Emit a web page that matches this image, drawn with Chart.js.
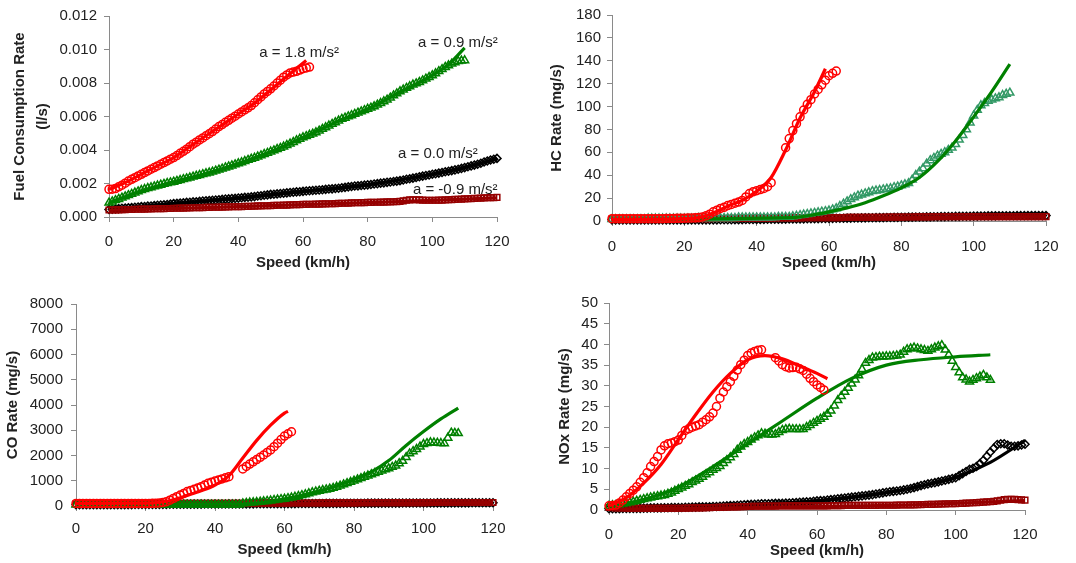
<!DOCTYPE html>
<html>
<head>
<meta charset="utf-8">
<script src="https://cdn.jsdelivr.net/npm/chart.js@4/dist/chart.umd.min.js"></script>
<style>
html,body{margin:0;padding:0;background:#fff;width:1076px;height:563px;overflow:hidden}
canvas{position:absolute}
</style>
</head>
<body>
<canvas id="fuel" width="540" height="280" style="left:0;top:0"></canvas>
<canvas id="hc" width="536" height="280" style="left:540px;top:0"></canvas>
<canvas id="co" width="540" height="283" style="left:0;top:280px"></canvas>
<canvas id="nox" width="536" height="283" style="left:540px;top:280px"></canvas>
<script>
/* emisiones vs velocidad, 4 aceleraciones: puntos = medido, linea = modelo */
const SPD_62  = [0,1,2,3,4,5,6,7,8,9,10,11,12,13,14,15,16,17,18,19,20,21,22,23,24,25,26,27,28,29,
  30,31,32,33,34,35,36,37,38,39,40,41,42,43,44,45,46,47,48,49,50,51,52,53,54,55,56,57,58,59,60,61,62];
const SPD_110 = [0,1,2,3,4,5,6,7,8,9,10,11,12,13,14,15,16,17,18,19,20,21,22,23,24,25,26,27,28,29,
  30,31,32,33,34,35,36,37,38,39,40,41,42,43,44,45,46,47,48,49,50,51,52,53,54,55,56,57,58,59,
  60,61,62,63,64,65,66,67,68,69,70,71,72,73,74,75,76,77,78,79,80,81,82,83,84,85,86,87,88,89,
  90,91,92,93,94,95,96,97,98,99,100,101,102,103,104,105,106,107,108,109,110];
const SPD_120 = [0,1,2,3,4,5,6,7,8,9,10,11,12,13,14,15,16,17,18,19,20,21,22,23,24,25,26,27,28,29,
  30,31,32,33,34,35,36,37,38,39,40,41,42,43,44,45,46,47,48,49,50,51,52,53,54,55,56,57,58,59,
  60,61,62,63,64,65,66,67,68,69,70,71,72,73,74,75,76,77,78,79,80,81,82,83,84,85,86,87,88,89,
  90,91,92,93,94,95,96,97,98,99,100,101,102,103,104,105,106,107,108,109,110,111,112,113,114,115,116,117,118,119,120];

const X_TICKS    = ['0','20','40','60','80','100','120'];
const FUEL_TICKS = ['0.000','0.002','0.004','0.006','0.008','0.010','0.012'];
const HC_TICKS   = ['0','20','40','60','80','100','120','140','160','180'];
const CO_TICKS   = ['0','1000','2000','3000','4000','5000','6000','7000','8000'];
const NOX_TICKS  = ['0','5','10','15','20','25','30','35','40','45','50'];

/* fuel (l/s) */
const FUEL_RED = [0.00165,0.00166,0.00170,0.00180,0.00190,0.00202,0.00215,0.00225,0.00235,0.00245,
  0.00255,0.00265,0.00275,0.00285,0.00295,0.00305,0.00315,0.00325,0.00335,0.00345,
  0.00355,0.00367,0.00380,0.00392,0.00405,0.00420,0.00435,0.00447,0.00460,0.00472,
  0.00485,0.00497,0.00510,0.00525,0.00540,0.00552,0.00565,0.00577,0.00590,0.00602,
  0.00615,0.00627,0.00640,0.00652,0.00665,0.00682,0.00700,0.00717,0.00735,0.00750,
  0.00765,0.00782,0.00800,0.00817,0.00835,0.00848,0.00860,0.00865,0.00870,0.00877,
  0.00885,0.00890,0.00895];
const FUEL_RED_FX = [0,5,10,15,20,25,30,35,40,45,50,55,61];
const FUEL_RED_FIT = [0.00165,0.00205,0.00255,0.00305,0.00355,0.00420,0.00485,0.00550,0.00615,0.00680,0.00760,0.00840,0.00935];
const FUEL_GRN = [0.00085,0.00092,0.00100,0.00107,0.00115,0.00122,0.00130,0.00137,0.00145,0.00152,
  0.00160,0.00166,0.00172,0.00177,0.00182,0.00187,0.00192,0.00197,0.00202,0.00206,
  0.00210,0.00215,0.00220,0.00225,0.00230,0.00235,0.00240,0.00245,0.00250,0.00255,
  0.00260,0.00265,0.00270,0.00276,0.00282,0.00288,0.00295,0.00301,0.00307,0.00313,
  0.00320,0.00326,0.00333,0.00340,0.00347,0.00353,0.00360,0.00367,0.00375,0.00382,
  0.00390,0.00397,0.00405,0.00412,0.00420,0.00429,0.00438,0.00447,0.00457,0.00466,
  0.00475,0.00482,0.00490,0.00497,0.00505,0.00515,0.00525,0.00535,0.00545,0.00555,
  0.00565,0.00575,0.00585,0.00592,0.00600,0.00607,0.00615,0.00622,0.00630,0.00637,
  0.00645,0.00652,0.00660,0.00670,0.00680,0.00690,0.00700,0.00712,0.00725,0.00737,
  0.00750,0.00760,0.00770,0.00780,0.00790,0.00797,0.00805,0.00815,0.00825,0.00835,
  0.00845,0.00857,0.00870,0.00882,0.00895,0.00905,0.00915,0.00922,0.00930,0.00933,0.00935];
const FUEL_GRN_FX = [0,10,20,30,40,50,60,70,80,90,100,105,110];
const FUEL_GRN_FIT = [0.00085,0.00155,0.00210,0.00260,0.00320,0.00390,0.00475,0.00565,0.00645,0.00745,0.00845,0.00910,0.01010];
const FUEL_BLK = [0.00045,0.00046,0.00048,0.00050,0.00052,0.00053,0.00055,0.00056,0.00058,0.00060,
  0.00062,0.00063,0.00065,0.00066,0.00068,0.00070,0.00072,0.00073,0.00075,0.00077,
  0.00080,0.00081,0.00083,0.00085,0.00087,0.00088,0.00090,0.00091,0.00093,0.00095,
  0.00097,0.00098,0.00100,0.00101,0.00103,0.00105,0.00107,0.00108,0.00110,0.00111,
  0.00113,0.00115,0.00117,0.00118,0.00120,0.00122,0.00125,0.00127,0.00130,0.00132,
  0.00135,0.00136,0.00138,0.00140,0.00142,0.00144,0.00146,0.00148,0.00150,0.00151,
  0.00153,0.00155,0.00157,0.00158,0.00160,0.00161,0.00163,0.00165,0.00167,0.00168,
  0.00170,0.00172,0.00175,0.00177,0.00180,0.00182,0.00185,0.00186,0.00188,0.00190,
  0.00192,0.00194,0.00197,0.00199,0.00202,0.00204,0.00207,0.00209,0.00212,0.00214,
  0.00217,0.00221,0.00225,0.00228,0.00232,0.00236,0.00240,0.00244,0.00248,0.00251,
  0.00255,0.00258,0.00262,0.00266,0.00270,0.00273,0.00277,0.00281,0.00285,0.00290,
  0.00295,0.00300,0.00305,0.00310,0.00315,0.00321,0.00328,0.00334,0.00340,0.00345,0.00350];
const FUEL_BLK_FX = [0,20,40,60,80,100,110,120];
const FUEL_BLK_FIT = [0.00045,0.00080,0.00113,0.00153,0.00192,0.00255,0.00295,0.00350];
const FUEL_DRD = [0.00042,0.00042,0.00043,0.00043,0.00044,0.00044,0.00045,0.00045,0.00046,0.00046,
  0.00047,0.00047,0.00048,0.00048,0.00049,0.00049,0.00050,0.00050,0.00051,0.00051,
  0.00052,0.00052,0.00053,0.00053,0.00054,0.00054,0.00055,0.00055,0.00056,0.00056,
  0.00057,0.00057,0.00058,0.00058,0.00059,0.00059,0.00060,0.00060,0.00061,0.00061,
  0.00062,0.00062,0.00063,0.00063,0.00064,0.00065,0.00066,0.00066,0.00067,0.00067,
  0.00068,0.00069,0.00070,0.00070,0.00071,0.00071,0.00072,0.00073,0.00074,0.00074,
  0.00075,0.00075,0.00076,0.00076,0.00077,0.00077,0.00078,0.00078,0.00079,0.00079,
  0.00080,0.00081,0.00082,0.00082,0.00083,0.00084,0.00085,0.00085,0.00086,0.00086,
  0.00087,0.00087,0.00088,0.00088,0.00089,0.00089,0.00090,0.00090,0.00091,0.00092,
  0.00093,0.00096,0.00100,0.00102,0.00103,0.00103,0.00102,0.00101,0.00100,0.00100,
  0.00100,0.00100,0.00101,0.00101,0.00102,0.00103,0.00104,0.00105,0.00106,0.00107,
  0.00108,0.00109,0.00110,0.00111,0.00112,0.00113,0.00114,0.00115,0.00116,0.00116,0.00117];
const FUEL_DRD_FX = [0,30,60,90,120];
const FUEL_DRD_FIT = [0.00040,0.00056,0.00074,0.00092,0.00115];

/* HC (mg/s) */
const HC_RED = [2,2,2,2,2,2,2,2,2,2, 2,2,2,2,2,2.1,2.2,2.2,2.3,2.3,
  2.5,2.6,2.7,2.8,3,3.5,4.5,6,8,9.5, 11,12,13.5,14.5,15.5,16.5,18,21,24,25.5,
  26.5,27.5,28.5,30,33.5,null,null,null, 64,72,79,85,91,97,102,106,111,115,119,123,127,129,131];
const HC_RED_FX = [0,10,20,24,28,32,36,40,44,48,52,56,59];
const HC_RED_FIT = [1.5,1.5,2,3,7,13,18,26,38,62,90,113,133];
const HC_GRN = [1.5,1.5,1.5,1.5,1.5,1.5,1.5,1.5,1.5,1.5, 2,2,2,2,2,2,2,2,2,2,
  2,2,2,2,2.5,2.5,2.5,2.5,2.5,2.5, 2.5,2.5,2.5,2.5,2.5,3,3,3,3,3,
  3,3,3,3,3,3,3.5,3.5,3.5,3.5, 4,4.5,5,5.5,6,6.5,7,7.5,8,8.5,
  9,10,11,13,15,17,19,20.5,22,23, 24,25,26,26.5,27,27.5,28,28.5,29.5,30,
  31,32,33,36,40,43,46,50,53,55, 57,58.5,60,62,64,67,71,75,80,86,
  92,97,101,103,105,106,107,108,110,111,112];
const HC_GRN_FX = [0,50,55,60,65,70,75,80,85,90,95,100,105,110];
const HC_GRN_FIT = [1.5,3,5,8,11.5,16,22,29,38,52,70,91,113,137];
const HC_BLK = [1,1,1,1,1,1,1,1,1,1, 1,1,1,1,1,1,1,1,1,1, 1,1,1,1,1,1,1,1,1,1,
  1.05,1.1,1.1,1.15,1.2,1.2,1.25,1.3,1.3,1.35, 1.4,1.4,1.45,1.5,1.5,1.55,1.6,1.6,1.65,1.7,
  1.75,1.8,1.85,1.9,1.95,2,2.05,2.1,2.15,2.2, 2.25,2.3,2.35,2.4,2.45,2.5,2.55,2.6,2.65,2.7,
  2.75,2.8,2.85,2.9,2.95,3,3.05,3.1,3.15,3.2, 3.25,3.3,3.35,3.4,3.45,3.5,3.55,3.6,3.65,3.7,
  3.75,3.8,3.85,3.9,3.95,4,4.05,4.1,4.15,4.2, 4.25,4.3,4.35,4.4,4.45,4.5,4.5,4.55,4.55,4.6,
  4.6,4.6,4.65,4.65,4.65,4.7,4.7,4.7,4.7,4.7,4.7];
const HC_BLK_FX = [0,40,80,120];
const HC_BLK_FIT = [1,1.3,2.8,4.7];
const HC_DRD = [2,2,2,2,2,2,2,2,2,2, 2,2,2,2,2,2,2,2,2,2,
  2,2,2,2,2.05,2.1,2.1,2.1,2.15,2.2, 2.2,2.2,2.25,2.3,2.3,2.3,2.35,2.4,2.4,2.4,
  2.45,2.5,2.5,2.5,2.55,2.6,2.6,2.6,2.65,2.7, 2.7,2.7,2.75,2.8,2.8,2.8,2.85,2.9,2.9,2.9,
  2.95,3,3,3,3.05,3.1,3.1,3.1,3.15,3.2, 3.2,3.2,3.25,3.3,3.3,3.3,3.35,3.4,3.4,3.4,
  3.45,3.5,3.5,3.5,3.55,3.6,3.6,3.6,3.65,3.7, 3.7,3.7,3.7,3.75,3.75,3.75,3.8,3.8,3.8,3.8,
  3.8,3.8,3.8,3.8,3.8,3.8,3.8,3.8,3.8,3.8, 3.8,3.8,3.8,3.8,3.8,3.8,3.8,3.8,3.8,3.8,3.8];
const HC_DRD_FX = [0,40,80,120];
const HC_DRD_FIT = [1.5,2,2.8,3.8];

/* CO (mg/s) */
const CO_RED = [100,100,100,100,100,100,100,100,100,100, 100,100,100,100,100,100,100,100,100,100,
  100,100,105,110,120,140,170,230,300,370, 435,500,570,615,660,710,765,830,900,945,
  990,1030,1070,1115,1160,null,null,null, 1470,1565,1660,1750,1840,1930,2020,2120,2220,2350,2490,2630,2770,2860,2940];
const CO_RED_FX = [0,20,24,28,32,36,40,44,48,52,56,60,61];
const CO_RED_FIT = [100,110,150,250,420,600,830,1200,1900,2600,3200,3680,3750];
const CO_GRN = [50,50,50,50,50,50,50,50,50,50, 50,50,50,50,50,50,50,50,50,50,
  50,50,50,50,50,50,50,50,50,50, 50,50,50,50,50,50,50,50,50,50, 50,50,50,50,50,50,50,50,
  100,115,130,140,150,165,180,195,210,230,250,265, 280,305,330,360,390,425,460,500,540,570,
  600,625,650,680,710,755,800,850,900,950, 1000,1050,1100,1150,1200,1250,1300,1350,1400,1445,
  1490,1545,1600,1690,1780,1930,2080,2165,2250,2350, 2450,2485,2520,2510,2500,2490,2480,2700,2900,2890,2880];
const CO_GRN_FX = [0,50,55,60,65,70,75,80,85,90,95,100,105,110];
const CO_GRN_FIT = [50,80,150,280,420,600,800,1050,1350,1800,2400,2950,3450,3880];
const CO_BLK = [50,50,50,50,50,50,50,50,50,50, 52,52,53,53,54,55,56,57,58,59, 60,61,62,63,64,65,66,67,68,69,
  70,71,72,73,74,75,76,77,78,79, 80,80,81,81,82,82,83,83,84,84, 85,86,87,88,89,90,91,92,93,94,
  95,95,96,96,97,97,98,98,99,99, 100,101,102,103,104,105,106,107,108,109, 110,110,111,111,112,112,113,113,114,114,
  115,115,116,116,117,117,118,118,119,119, 120,120,121,121,122,122,123,123,124,124, 125,125,126,126,127,127,128,128,129,129,130];
const CO_BLK_FX = [0,60,120];
const CO_BLK_FIT = [50,75,130];
const CO_DRD = [90,90,90,90,90,90,90,90,90,90, 91,91,92,92,93,93,94,94,95,95, 96,96,97,97,98,98,99,99,100,100,
  101,101,102,102,103,103,104,104,105,105, 106,106,107,107,108,108,109,109,110,110, 111,111,112,112,113,113,114,114,115,115,
  116,116,117,117,118,118,119,119,120,120, 121,121,122,122,123,123,124,124,125,125, 126,126,127,127,128,128,129,129,130,130,
  131,131,132,132,133,133,134,134,135,135, 136,136,137,137,138,138,139,139,140,140, 140,140,140,140,140,140,140,140,140,140,140];
const CO_DRD_FX = [0,60,120];
const CO_DRD_FIT = [60,90,130];

/* NOx (mg/s) */
const NOX_RED = [1.0,1.1,1.2,1.7,2.4,3.2,4.0,4.8,5.6,6.7, 7.8,9.0,10.5,11.7,12.9,14.5,15.5,16.0,16.2,16.5,
  16.9,18.0,19.2,19.6,20.0,20.3,20.6,21.2,21.8,22.5, 23.4,25.0,27.0,28.5,29.8,31.0,32.3,33.8,35.1,36.2,
  37.3,37.9,38.3,38.6,38.7,null,null,null, 36.8,36.0,35.1,34.6,34.3,34.4,34.5,34.1,33.7,32.8,31.8,31.0,30.2,29.6,29.0];
const NOX_RED_FX = [0,5,10,15,20,25,30,35,40,45,50,55,60,63];
const NOX_RED_FIT = [1,3,6.5,11,17,23,28.5,33,36.3,37.3,36.5,34.8,33,31.7];
const NOX_GRN = [1.0,1.1,1.2,1.35,1.5,1.65,1.8,2.0,2.2,2.4, 2.6,2.8,3.0,3.15,3.3,3.45,3.6,3.9,4.2,4.6,
  5.0,5.4,5.8,6.2,6.7,7.1,7.5,8.0,8.6,9.1, 9.7,10.1,10.6,11.3,12.0,12.7,13.5,14.5,15.3,15.9,
  16.4,17.0,17.5,18.0,18.5,18.4,18.2,18.2,18.3,18.8, 19.3,19.5,19.6,19.5,19.5,19.5,19.5,20.0,20.5,21.0,
  21.5,22.0,22.5,23.2,24.0,25.2,26.5,27.5,28.5,29.5, 30.5,31.5,32.5,34.0,35.5,36.2,36.8,36.9,37.0,37.0,
  37.1,37.1,37.2,37.3,37.5,38.2,38.8,39.0,39.2,39.0, 38.8,38.6,38.4,38.8,39.2,39.5,39.8,38.7,37.5,36.0,
  34.5,33.2,32.0,31.5,31.0,31.4,31.8,32.2,32.6,32.0,31.4];
const NOX_GRN_FX = [0,10,20,30,40,50,60,70,80,90,100,110];
const NOX_GRN_FIT = [0.8,2.5,5.5,10.5,16,21.5,27,31.8,35,36.3,37,37.5];
const NOX_BLK = [0.3,0.3,0.3,0.3,0.35,0.35,0.4,0.4,0.4,0.4, 0.45,0.45,0.5,0.5,0.5,0.5,0.55,0.55,0.6,0.6,
  0.6,0.6,0.65,0.65,0.7,0.7,0.75,0.75,0.8,0.8, 0.85,0.85,0.9,0.95,1.0,1.05,1.1,1.15,1.2,1.25,
  1.3,1.35,1.4,1.45,1.5,1.5,1.5,1.55,1.6,1.6, 1.6,1.65,1.7,1.75,1.8,1.85,1.9,1.95,2.0,2.1,
  2.2,2.25,2.3,2.4,2.5,2.6,2.7,2.8,2.9,3.0, 3.1,3.2,3.3,3.4,3.5,3.6,3.7,3.85,4.0,4.15,
  4.3,4.4,4.5,4.6,4.7,4.85,5.0,5.2,5.4,5.65, 5.9,6.1,6.3,6.45,6.6,6.8,7.0,7.2,7.4,7.6,
  7.8,8.3,8.8,9.3,9.8,10.1,10.5,11.2,12.0,13.0, 14.0,14.9,15.8,16.0,16.0,15.7,15.4,15.4,15.5,15.7,15.9];
const NOX_BLK_FX = [0,20,40,60,80,90,100,110,120];
const NOX_BLK_FIT = [0.3,0.7,1.3,2.2,4.2,5.8,7.9,11.5,16.8];
const NOX_DRD = [0.6,0.55,0.5,0.5,0.5,0.45,0.4,0.4,0.4,0.4, 0.4,0.4,0.4,0.4,0.4,0.4,0.4,0.4,0.4,0.4,
  0.4,0.42,0.45,0.47,0.5,0.5,0.5,0.52,0.55,0.57, 0.6,0.62,0.65,0.67,0.7,0.72,0.75,0.77,0.8,0.82,
  0.85,0.87,0.9,0.9,0.9,0.92,0.95,0.95,0.95,0.97, 1.0,1.0,1.0,1.0,1.0,1.0,1.0,1.0,1.0,1.0,
  1.0,1.0,1.0,1.0,1.05,1.05,1.05,1.05,1.1,1.1, 1.1,1.1,1.1,1.1,1.1,1.1,1.1,1.12,1.15,1.15,
  1.15,1.15,1.15,1.17,1.2,1.2,1.2,1.22,1.25,1.27, 1.3,1.32,1.35,1.37,1.4,1.42,1.45,1.47,1.5,1.52,
  1.55,1.57,1.6,1.65,1.7,1.75,1.8,1.85,1.9,1.95, 2.0,2.1,2.2,2.35,2.5,2.55,2.6,2.55,2.5,2.45,2.4];
const NOX_DRD_FX = [0,30,60,90,120];
const NOX_DRD_FIT = [0.2,0.4,0.8,1.3,2.3];

/* rótulos de aceleración (solo en el panel de combustible) */
const NOTE_TEXT = ['a = 1.8 m/s²','a = 0.9 m/s²','a = 0.0 m/s²','a = -0.9 m/s²'];
const NOTE_X    = [46.5, 95.6, 89.4, 94];
const NOTE_Y    = [0.00982, 0.01042, 0.00378, 0.00165];

const RED='#ff0000', GRN='#008000', GRN_HC='#339966', BLK='#000000', DRD='#960000', AXIS='#8a8a8a';

Chart.defaults.font.family = '"Liberation Sans", Arial, sans-serif';
Chart.defaults.font.size = 15;
Chart.defaults.color = '#222';

const pts = (xs, ys) => xs.map((x,i)=>({x, y:ys[i]}));
const marks = (xs, ys, color, style, ord) => ({data:pts(xs,ys), showLine:false, pointStyle:style,
  pointRadius: style==='triangle'?4.6:4, pointBorderColor:color, pointBackgroundColor:'rgba(0,0,0,0)',
  pointBorderWidth:1.5, order:ord, clip:false});
const fit = (xs, ys, color, ord) => ({data:pts(xs,ys), showLine:true, borderColor:color, borderWidth:3.2,
  pointRadius:0, cubicInterpolationMode:'monotone', order:ord, clip:false});

function panel(id, b, y, datasets, notes){
  const notePlugin = {id:'notes', afterDatasetsDraw(ch){
    if(!notes) return;
    const c = ch.ctx; c.save();
    c.font = '15px "Liberation Sans", Arial, sans-serif'; c.fillStyle = '#222';
    c.textAlign = 'left'; c.textBaseline = 'middle';
    notes.text.forEach((t,i)=>c.fillText(t, ch.scales.x.getPixelForValue(notes.x[i]), ch.scales.y.getPixelForValue(notes.y[i])));
    c.restore();
  }};
  return new Chart(document.getElementById(id), {
    type:'scatter',
    data:{datasets},
    options:{
      responsive:false, animation:false, devicePixelRatio:1,
      layout:{padding:{top:b.top, right:b.w-b.right, left:0, bottom:0}},
      plugins:{legend:{display:false}, tooltip:{enabled:false}},
      scales:{
        x:{type:'linear', min:0, max:120,
           ticks:{stepSize:20, autoSkip:false, maxRotation:0, padding:b.xtp, callback:(v,i)=>X_TICKS[i]},
           grid:{drawOnChartArea:false, tickLength:5, color:AXIS}, border:{color:AXIS},
           title:{display:true, text:'Speed (km/h)', font:{weight:'bold'}, padding:{top:0, bottom:b.xtt}},
           afterFit:s=>{s.height = b.h - b.bottom;}},
        y:{type:'linear', min:y.min, max:y.max,
           ticks:{stepSize:y.step, autoSkip:false, padding:b.ytp, callback:(v,i)=>y.labels[i]},
           grid:{drawOnChartArea:false, tickLength:5, color:AXIS}, border:{color:AXIS},
           title:{display:true, text:y.title, font:{weight:'bold', lineHeight:y.lh||1.2}, padding:{top:b.ytt, bottom:0}},
           afterFit:s=>{s.width = b.left;}}
      }
    },
    plugins:[notePlugin]
  });
}

/* orden: número menor = se dibuja encima */
const sets = (r, g, k, d, gcol) => [
  fit(r.fx, r.fit, RED, 1), marks(SPD_62, r.pts, RED, 'circle', 2),
  fit(g.fx, g.fit, GRN, 3), marks(SPD_110, g.pts, gcol||GRN, 'triangle', 4),
  fit(d.fx, d.fit, DRD, 5), marks(SPD_120, d.pts, DRD, 'rect', 6),
  fit(k.fx, k.fit, BLK, 7), marks(SPD_120, k.pts, BLK, 'rectRot', 8)
];

panel('fuel', {w:540,h:280,left:109,right:497,top:15,bottom:217,xtp:11,xtt:8,ytp:7,ytt:8.5},
  {min:0,max:0.012,step:0.002,labels:FUEL_TICKS,title:['Fuel Consumption Rate','(l/s)'],lh:1.53},
  sets({pts:FUEL_RED,fx:FUEL_RED_FX,fit:FUEL_RED_FIT},{pts:FUEL_GRN,fx:FUEL_GRN_FX,fit:FUEL_GRN_FIT},
       {pts:FUEL_BLK,fx:FUEL_BLK_FX,fit:FUEL_BLK_FIT},{pts:FUEL_DRD,fx:FUEL_DRD_FX,fit:FUEL_DRD_FIT}),
  {text:NOTE_TEXT, x:NOTE_X, y:NOTE_Y});

panel('hc', {w:536,h:280,left:72,right:506,top:15,bottom:221,xtp:12,xtt:8,ytp:6,ytt:8},
  {min:0,max:180,step:20,labels:HC_TICKS,title:'HC Rate (mg/s)'},
  sets({pts:HC_RED,fx:HC_RED_FX,fit:HC_RED_FIT},{pts:HC_GRN,fx:HC_GRN_FX,fit:HC_GRN_FIT},
       {pts:HC_BLK,fx:HC_BLK_FX,fit:HC_BLK_FIT},{pts:HC_DRD,fx:HC_DRD_FX,fit:HC_DRD_FIT}, GRN_HC));

panel('co', {w:540,h:283,left:76,right:493,top:24,bottom:226,xtp:9,xtt:4,ytp:8,ytt:4},
  {min:0,max:8000,step:1000,labels:CO_TICKS,title:'CO Rate (mg/s)'},
  sets({pts:CO_RED,fx:CO_RED_FX,fit:CO_RED_FIT},{pts:CO_GRN,fx:CO_GRN_FX,fit:CO_GRN_FIT},
       {pts:CO_BLK,fx:CO_BLK_FX,fit:CO_BLK_FIT},{pts:CO_DRD,fx:CO_DRD_FX,fit:CO_DRD_FIT}));

panel('nox', {w:536,h:283,left:69,right:485,top:23,bottom:230,xtp:11,xtt:3,ytp:6,ytt:16},
  {min:0,max:50,step:5,labels:NOX_TICKS,title:'NOx Rate (mg/s)'},
  sets({pts:NOX_RED,fx:NOX_RED_FX,fit:NOX_RED_FIT},{pts:NOX_GRN,fx:NOX_GRN_FX,fit:NOX_GRN_FIT},
       {pts:NOX_BLK,fx:NOX_BLK_FX,fit:NOX_BLK_FIT},{pts:NOX_DRD,fx:NOX_DRD_FX,fit:NOX_DRD_FIT}));
</script>
</body>
</html>
